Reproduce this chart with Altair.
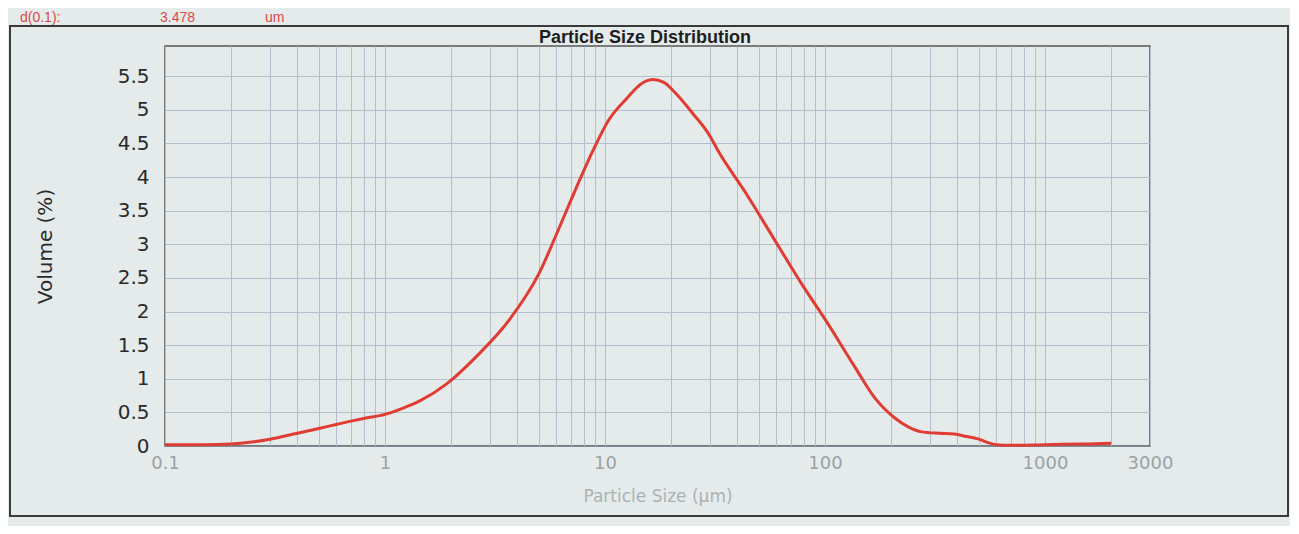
import altair as alt
import pandas as pd

# Particle size (um) and volume (%)
sizes = [0.1, 0.15, 0.2, 0.3, 0.4, 0.5, 0.6, 0.7, 0.8, 1.0, 1.2, 1.44, 1.9, 2.6,
         3.7, 5.0, 6.2, 7.4, 8.8, 10.4, 12.4, 14.8, 16.5, 18.5, 20.9, 25, 29.6,
         32.8, 43.5, 59.4, 78.7, 103, 137, 168, 207, 240, 275, 330, 387, 440,
         492, 550, 600, 700, 1000, 1500, 2000]
volume = [0.02, 0.02, 0.03, 0.10, 0.19, 0.26, 0.32, 0.37, 0.41, 0.47, 0.56, 0.67,
          0.92, 1.33, 1.89, 2.56, 3.25, 3.84, 4.39, 4.85, 5.15, 5.40, 5.45, 5.41,
          5.25, 4.95, 4.64, 4.38, 3.77, 3.05, 2.40, 1.82, 1.17, 0.72, 0.42, 0.28,
          0.21, 0.19, 0.18, 0.14, 0.11, 0.05, 0.02, 0.01, 0.02, 0.03, 0.04]

x_grid = [0.1, 0.2, 0.3, 0.4, 0.5, 0.6, 0.7, 0.8, 0.9,
          1, 2, 3, 4, 5, 6, 7, 8, 9,
          10, 20, 30, 40, 50, 60, 70, 80, 90,
          100, 200, 300, 400, 500, 600, 700, 800, 900,
          1000, 2000, 3000]
x_labels = [0.1, 1, 10, 100, 1000, 3000]
y_ticks = [0, 0.5, 1, 1.5, 2, 2.5, 3, 3.5, 4, 4.5, 5, 5.5]

title_text = "Particle Size Distribution"
x_title = "Particle Size (µm)"
y_title = "Volume (%)"
header = ["d(0.1):", "3.478", "um"]

df = pd.DataFrame({"size": sizes, "volume": volume})
one = pd.DataFrame({"k": [0]})

label_expr = "indexof(" + str(x_labels) + ", datum.value) >= 0 ? datum.value + '' : ''"

line = alt.Chart(df).mark_line(color="#e03c34", strokeWidth=3, interpolate="monotone").encode(
    x=alt.X("size:Q",
            scale=alt.Scale(type="log", domain=[0.1, 3000], nice=False),
            axis=alt.Axis(values=x_grid, labelExpr=label_expr, labelOverlap=False,
                          labelBound=False, labelFlush=False, ticks=False,
                          labelPadding=8, labelFontSize=18, labelColor="#9aa2a4",
                          labelFont="DejaVu Sans",
                          title=x_title, titleFontSize=17, titleColor="#aab2b4",
                          titleFont="DejaVu Sans", titleFontWeight="normal",
                          titlePadding=16, domainColor="#7d8b99", gridColor="#b3bfcc",
                          gridWidth=1)),
    y=alt.Y("volume:Q",
            scale=alt.Scale(domain=[0, 5.95], nice=False, zero=True),
            axis=alt.Axis(values=y_ticks, format="~g", ticks=False, labelPadding=16,
                          labelFontSize=20, labelColor="#2a2a2a", labelFont="DejaVu Sans",
                          title=y_title, titleFontSize=20, titleColor="#2a2a2a",
                          titleFont="DejaVu Sans", titleFontWeight="normal",
                          titlePadding=62, domain=False, gridColor="#b3bfcc",
                          gridWidth=1)),
)

frame = alt.Chart(one).mark_rect(filled=False, stroke="#3a3a3a", strokeWidth=2).encode(
    x=alt.value(-155), x2=alt.value(1123), y=alt.value(-20), y2=alt.value(470)
)

hdr = alt.Chart(one).mark_text(color="#d94a44", fontSize=14, align="left",
                               baseline="alphabetic", font="Liberation Sans")
h1 = hdr.encode(x=alt.value(-145), y=alt.value(-24), text=alt.value(header[0]))
h2 = hdr.encode(x=alt.value(-5), y=alt.value(-24), text=alt.value(header[1]))
h3 = hdr.encode(x=alt.value(100), y=alt.value(-24), text=alt.value(header[2]))

ttl = alt.Chart(one).mark_text(color="#1e1e1e", fontSize=18, fontWeight="bold",
                               font="Liberation Sans", align="center",
                               baseline="alphabetic").encode(
    x=alt.value(480), y=alt.value(-3), text=alt.value(title_text))

chart = alt.layer(line, frame, h1, h2, h3, ttl).properties(
    width=985, height=400,
    autosize=alt.AutoSizeParams(type="none"),
    padding={"left": 157, "top": 38, "right": 140, "bottom": 80},
    background="#e5ebeb",
).configure_view(stroke="#555555", strokeWidth=1.5)

chart.save("out.html", embed_options={"renderer": "svg", "actions": False})
